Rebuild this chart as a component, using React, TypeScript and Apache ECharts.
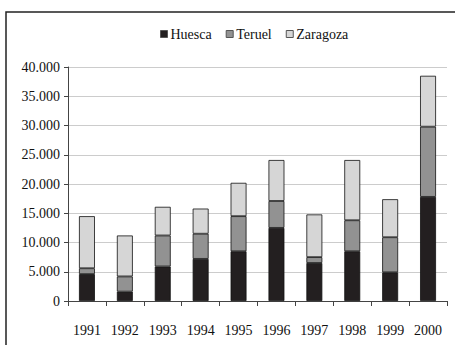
import React, { useEffect, useRef } from "react";
import * as echarts from "echarts";

const years = ["1991", "1992", "1993", "1994", "1995", "1996", "1997", "1998", "1999", "2000"];
const huesca = [4600, 1600, 5900, 7200, 8500, 12500, 6500, 8500, 4900, 17800];
const teruel = [1000, 2600, 5300, 4300, 6000, 4600, 1000, 5300, 6000, 12000];
const zaragoza = [8900, 7000, 4900, 4300, 5700, 7000, 7300, 10300, 6500, 8700];
const seriesNames = ["Huesca", "Teruel", "Zaragoza"];
const seriesColors = ["#231f20", "#929292", "#d6d6d6"];

const fmt = (v: number) => {
  const s = String(Math.round(v));
  return s.replace(/\B(?=(\d{3})+(?!\d))/g, ".");
};

export default function App() {
  const ref = useRef<HTMLDivElement>(null);
  useEffect(() => {
    if (!ref.current) return;
    const chart = echarts.init(ref.current, null, { renderer: "svg" });
    const font = "'Liberation Serif', 'Times New Roman', serif";
    const data = [huesca, teruel, zaragoza];
    chart.setOption({
      animation: false,
      backgroundColor: "#ffffff",
      textStyle: { fontFamily: font },
      graphic: [
        {
          type: "rect",
          shape: { x: 6, y: 12, width: 460, height: 345 },
          style: { fill: "none", stroke: "#222", lineWidth: 1.5 },
          silent: true,
        },
      ],
      legend: {
        top: 22,
        left: 155,
        itemWidth: 7,
        itemHeight: 7,
        itemGap: 14,
        icon: "rect",
        textStyle: { fontFamily: font, fontSize: 14, color: "#111", padding: [0, 0, 0, -2] },
        data: seriesNames.map((n, i) => ({
          name: n,
          itemStyle: { color: seriesColors[i], borderColor: "#555", borderWidth: 1 },
        })),
      },
      grid: { left: 68, right: 8, top: 67, bottom: 44 },
      xAxis: {
        type: "category",
        data: years,
        axisLine: { lineStyle: { color: "#444", width: 1 } },
        axisTick: { show: true, length: 5, lineStyle: { color: "#444" } },
        axisLabel: { fontFamily: font, fontSize: 14, color: "#111", margin: 22 },
      },
      yAxis: {
        type: "value",
        min: 0,
        max: 40000,
        interval: 5000,
        axisLine: { show: true, lineStyle: { color: "#444", width: 1 } },
        axisTick: { show: true, length: 4, lineStyle: { color: "#444" } },
        axisLabel: { fontFamily: font, fontSize: 14, color: "#111", margin: 8, formatter: fmt },
        splitLine: { lineStyle: { color: "#cccccc", width: 1 } },
      },
      series: seriesNames.map((n, i) => ({
        name: n,
        type: "bar",
        stack: "total",
        barWidth: "42%",
        data: data[i],
        itemStyle: { color: seriesColors[i], borderColor: "#111", borderWidth: 0.8 },
      })),
    });
    return () => chart.dispose();
  }, []);
  return (
    <div
      ref={ref}
      style={{ position: "fixed", left: 0, top: 0, width: 455, height: 345 }}
    />
  );
}
